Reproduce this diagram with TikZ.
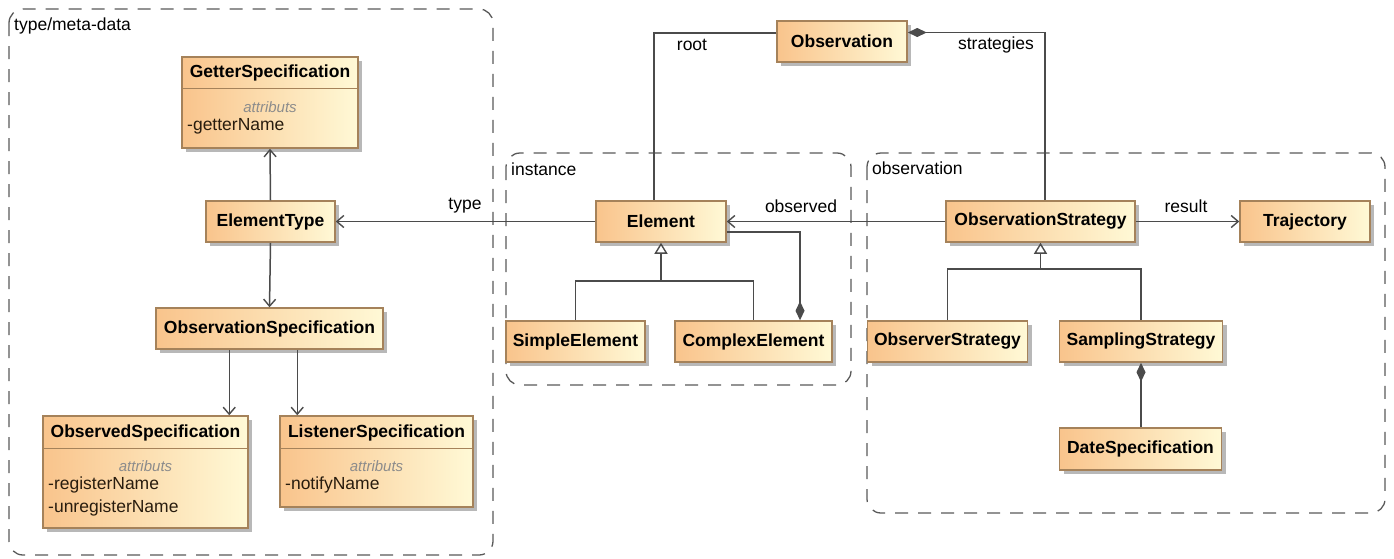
\documentclass[tikz,border=0pt]{standalone}
\usepackage{fontspec}
\setmainfont{Liberation Sans}
\usetikzlibrary{arrows.meta,shadows}
\definecolor{boxL}{RGB}{249,196,140}
\definecolor{boxR}{RGB}{255,249,214}
\definecolor{boxD}{RGB}{165,130,90}
\definecolor{lineC}{RGB}{75,75,75}
\definecolor{pkgC}{RGB}{90,90,90}
\definecolor{attrC}{RGB}{140,140,140}
\definecolor{attrT}{RGB}{40,28,14}
\tikzset{
  cls/.style={draw=boxD, line width=1.5pt, left color=boxL, right color=boxR, inner sep=0pt,
    font=\fontsize{17.5}{20}\selectfont\bfseries, text=black,
    drop shadow={shadow xshift=4pt, shadow yshift=-4pt, fill=black!28, opacity=1}},
  cname/.style={font=\fontsize{17.5}{20}\selectfont\bfseries, text=black, inner sep=0pt},
  attrhead/.style={font=\fontsize{15}{18}\selectfont\itshape, text=attrC, inner sep=0pt},
  attr/.style={font=\fontsize{17.5}{20}\selectfont, text=attrT, inner sep=0pt, anchor=west},
  divider/.style={draw=boxD, line width=1.5pt},
  pkg/.style={draw=pkgC, line width=1.3pt, dash pattern=on 13pt off 10pt, rounded corners=14pt},
  pkglabel/.style={font=\fontsize{17.5}{20}\selectfont, text=black, inner sep=0pt, anchor=west},
  lbl/.style={font=\fontsize{17.5}{20}\selectfont, text=black, inner sep=0pt},
  conn/.style={draw=lineC, line width=1.5pt},
  assoc/.style={conn, -{Straight Barb[length=7pt,width=12pt,line width=1.4pt]}},
  gen/.style={conn, -{Triangle[open,length=11pt,width=13pt,fill=white,line width=1.4pt]}},
  compend/.style={conn, -{Diamond[length=19pt,width=9pt]}},
  compstart/.style={conn, {Diamond[length=19pt,width=9pt]}-},
}
\begin{document}
\begin{tikzpicture}[x=1pt,y=-1pt]
\useasboundingbox[fill=white] (0,0) rectangle (1394,558);

% packages
\draw[pkg] (9,9) rectangle (493,555);
\node[pkglabel] (pmeta) at (14,26) {type/meta-data};
\draw[pkg] (506,153) rectangle (851,385);
\node[pkglabel] (pinst) at (511,169) {instance};
\draw[pkg] (867,153) rectangle (1385,513);
\node[pkglabel] (pobs) at (872,168) {observation};

% meta-data classes
\node[cls, minimum width=176pt, minimum height=91pt] (getter) at (270,102.5) {};
\node[cname] (getterN) at (270,73) {GetterSpecification};
\draw[divider] ([yshift=-32pt]getter.north west) -- ([yshift=-32pt]getter.north east);
\node[attrhead] (getterH) at (270,107) {attributs};
\node[attr] (getterA) at (187,126) {-getterName};

\node[cls, minimum width=129pt, minimum height=41pt] (etype) at (270.5,221.5) {ElementType};
\node[cls, minimum width=227pt, minimum height=41pt] (ospec) at (269.5,328.5) {ObservationSpecification};

\node[cls, minimum width=205pt, minimum height=112pt] (observed) at (145.5,472) {};
\node[cname] (observedN) at (145.5,432.5) {ObservedSpecification};
\draw[divider] ([yshift=-33pt]observed.north west) -- ([yshift=-33pt]observed.north east);
\node[attrhead] (observedH) at (145.5,466) {attributs};
\node[attr] (observedA1) at (48,485) {-registerName};
\node[attr] (observedA2) at (48,508) {-unregisterName};

\node[cls, minimum width=193pt, minimum height=91pt] (listener) at (376.5,461.5) {};
\node[cname] (listenerN) at (376.5,432.5) {ListenerSpecification};
\draw[divider] ([yshift=-33pt]listener.north west) -- ([yshift=-33pt]listener.north east);
\node[attrhead] (listenerH) at (376.5,466) {attributs};
\node[attr] (listenerA) at (285,485) {-notifyName};

% top / instance classes
\node[cls, minimum width=130pt, minimum height=41pt] (obs) at (842,41.5) {Observation};
\node[cls, minimum width=130pt, minimum height=41pt] (elem) at (661,221.5) {Element};
\node[cls, minimum width=139pt, minimum height=41pt] (simple) at (575.5,341.5) {SimpleElement};
\node[cls, minimum width=157pt, minimum height=41pt] (complex) at (753.5,341.5) {ComplexElement};

% observation classes
\node[cls, minimum width=189pt, minimum height=41pt] (ostrat) at (1040.5,221.5) {ObservationStrategy};
\node[cls, minimum width=130pt, minimum height=41pt] (traj) at (1305,221.5) {Trajectory};
\node[cls, minimum width=160pt, minimum height=41pt] (observer) at (947.5,341.5) {ObserverStrategy};
\node[cls, minimum width=163pt, minimum height=41pt] (sampling) at (1141,341.5) {SamplingStrategy};
\node[cls, minimum width=162pt, minimum height=42pt] (date) at (1140.5,449) {DateSpecification};

% connectors: meta-data
\draw[assoc] (etype.north) -- (getter.south);
\draw[assoc] (etype.south) -- (ospec.north);
\draw[assoc] ([xshift=74pt]ospec.south west) -- ([xshift=74pt]ospec.south west |- observed.north);
\draw[assoc] ([xshift=142pt]ospec.south west) -- ([xshift=142pt]ospec.south west |- listener.north);

% type / observed / result
\draw[assoc] (elem.west) -- (etype.east);
\node[lbl] (ltype) at (465,206) {type};
\draw[assoc] (ostrat.west) -- (elem.east);
\node[lbl] (lobserved) at (801,206) {observed};
\draw[assoc] (ostrat.east) -- (traj.west);
\node[lbl] (lresult) at (1186,206) {result};

% root / strategies
\draw[conn] ([yshift=8.5pt]obs.west) -| ([xshift=-7pt]elem.north);
\node[lbl] (lroot) at (692,45) {root};
\draw[compstart] ([yshift=9pt]obs.east) -| ([xshift=4.5pt]ostrat.north);
\node[lbl] (lstrat) at (996,45) {strategies};

% Element generalization + composition
\coordinate (ej) at (661,281);
\draw[conn] (simple.north) |- (ej) -| (complex.north);
\draw[gen] (ej) -- (elem.south);
\draw[compend] ([yshift=-10.5pt]elem.east) -| ([xshift=46.5pt]complex.north);

% Strategy generalization + composition
\coordinate (oj) at (1040.5,269);
\draw[conn] (observer.north) |- (oj) -| (sampling.north);
\draw[gen] (oj) -- (ostrat.south);
\draw[compstart] (sampling.south) -- (sampling.south |- date.north);
\end{tikzpicture}
\end{document}
